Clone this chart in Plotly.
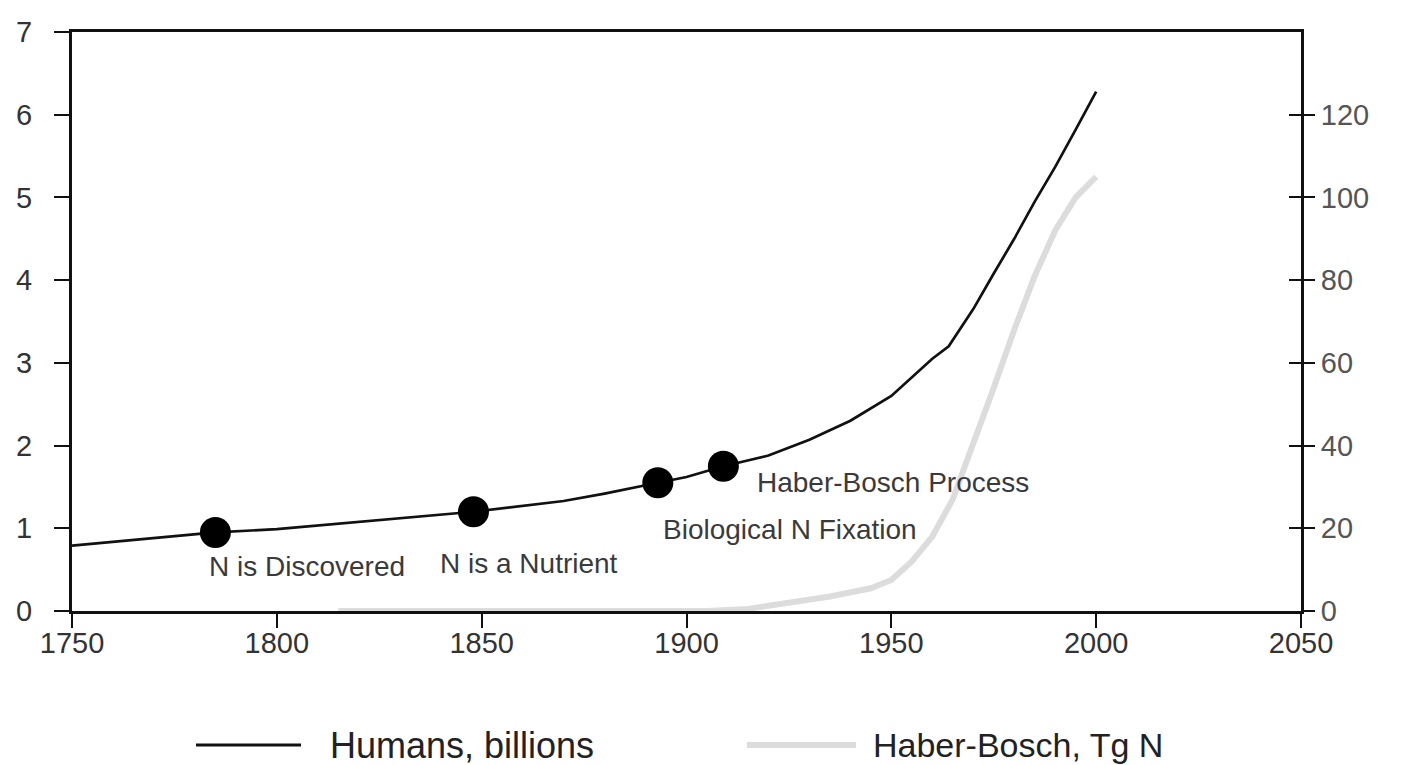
import plotly.graph_objects as go

# ---- data ----
human_years = [1750, 1785, 1800, 1848, 1870, 1880, 1893, 1900, 1909, 1920, 1930, 1940, 1950,
               1960, 1964, 1970, 1975, 1980, 1985, 1990, 1995, 2000]
human_billions = [0.79, 0.95, 0.99, 1.2, 1.33, 1.42, 1.55, 1.62, 1.75, 1.88, 2.07, 2.3, 2.6,
                  3.05, 3.2, 3.65, 4.08, 4.5, 4.95, 5.37, 5.82, 6.28]

hb_years = [1815, 1850, 1880, 1905, 1915, 1925, 1935, 1945, 1950, 1955, 1960, 1965, 1970,
            1975, 1980, 1985, 1990, 1995, 2000]
hb_tgN = [0, 0, 0, 0, 0.5, 2, 3.5, 5.5, 7.5, 12, 18, 27, 40, 54, 68, 81, 92, 100, 105]

event_years = [1785, 1848, 1893, 1909]
event_values = [0.95, 1.2, 1.55, 1.75]
event_labels = ["N is Discovered", "N is a Nutrient", "Biological N Fixation", "Haber-Bosch Process"]
label_x = [1807.3, 1861.6, 1925.2, 1950.3]
label_y = [0.54, 0.57, 0.99, 1.55]

x_ticks = [1750, 1800, 1850, 1900, 1950, 2000, 2050]
left_ticks = [0, 1, 2, 3, 4, 5, 6, 7]
right_ticks = [0, 20, 40, 60, 80, 100, 120]

series_names = ["Humans, billions", "Haber-Bosch, Tg N"]

FONT = "Liberation Sans, Arial, sans-serif"
GREY = "#dcdcdc"

# page body has an 8px margin: the figure is sized to fit the 1404x765 window
W, H = 1396, 757
L, T, PH, PW = 64, 24, 579, 1229

fig = go.Figure()

fig.add_trace(go.Scatter(x=hb_years, y=hb_tgN, yaxis="y2", mode="lines",
                         line=dict(color=GREY, width=6), name=series_names[1],
                         showlegend=False, hoverinfo="skip"))
fig.add_trace(go.Scatter(x=human_years, y=human_billions, mode="lines",
                         line=dict(color="#111111", width=2.7), name=series_names[0],
                         showlegend=False))
fig.add_trace(go.Scatter(x=event_years, y=event_values, mode="markers",
                         marker=dict(color="#000000", size=31), showlegend=False))

for t, lx, ly in zip(event_labels, label_x, label_y):
    fig.add_annotation(x=lx, y=ly, xref="x", yref="y", text=t, showarrow=False,
                       font=dict(family=FONT, size=28, color="#3a3a3a"),
                       xanchor="center", yanchor="middle")

# manual legend (long line samples), positions in window pixels -> paper
def px(xw):
    return (xw - 8 - L) / PW

def py(yw):
    return (T + PH - (yw - 8)) / PH

leg_y = py(745)
fig.add_shape(type="line", xref="paper", yref="paper", x0=px(196), x1=px(301), y0=leg_y, y1=leg_y,
              line=dict(color="#111111", width=3))
fig.add_annotation(x=px(328), y=leg_y, xref="paper", yref="paper", text=series_names[0],
                   showarrow=False, xanchor="left", yanchor="middle",
                   font=dict(family=FONT, size=36, color="#222222"))
fig.add_shape(type="line", xref="paper", yref="paper", x0=px(747), x1=px(856), y0=leg_y, y1=leg_y,
              line=dict(color=GREY, width=6))
fig.add_annotation(x=px(871), y=leg_y, xref="paper", yref="paper", text=series_names[1],
                   showarrow=False, xanchor="left", yanchor="middle",
                   font=dict(family=FONT, size=34, color="#222222"))

tickfont = dict(family=FONT, size=29, color="#333333")

fig.update_layout(
    width=W, height=H,
    margin=dict(l=L, r=W - L - PW, t=T, b=H - T - PH, autoexpand=False),
    paper_bgcolor="white", plot_bgcolor="white",
    showlegend=False,
    xaxis=dict(range=[1750, 2050], tickvals=x_ticks, ticks="outside", ticklen=14,
               tickwidth=2, tickcolor="#111", showline=True, linecolor="#111", linewidth=3,
               mirror=True, showgrid=False, zeroline=False, tickfont=tickfont,
               ticklabelstandoff=-10, layer="below traces"),
    yaxis=dict(range=[0, 7], tickvals=left_ticks, ticks="outside", ticklen=15,
               tickwidth=2, tickcolor="#111", showline=True, linecolor="#111", linewidth=3,
               showgrid=False, zeroline=False, tickfont=tickfont, ticklabelstandoff=16,
               layer="below traces"),
    yaxis2=dict(range=[0, 140], tickvals=right_ticks, overlaying="y", side="right",
                ticks="outside", ticklen=11, tickwidth=2, tickcolor="#111",
                showline=True, linecolor="#111", linewidth=3, showgrid=False,
                zeroline=False, tickfont=dict(family=FONT, size=29, color="#555555"),
                ticklabelstandoff=0, layer="below traces"),
    yaxis3=dict(range=[0, 140], tickvals=right_ticks + [140], overlaying="y", side="right",
                ticks="inside", ticklen=12, tickwidth=2, tickcolor="#111",
                showticklabels=False, showline=False, showgrid=False, zeroline=False),
)

# invisible trace to activate yaxis3 (inside half of the crossing right-hand ticks)
fig.add_trace(go.Scatter(x=[1750], y=[0], yaxis="y3", mode="markers",
                         marker=dict(opacity=0), showlegend=False, hoverinfo="skip"))

fig.write_html("out.html")
